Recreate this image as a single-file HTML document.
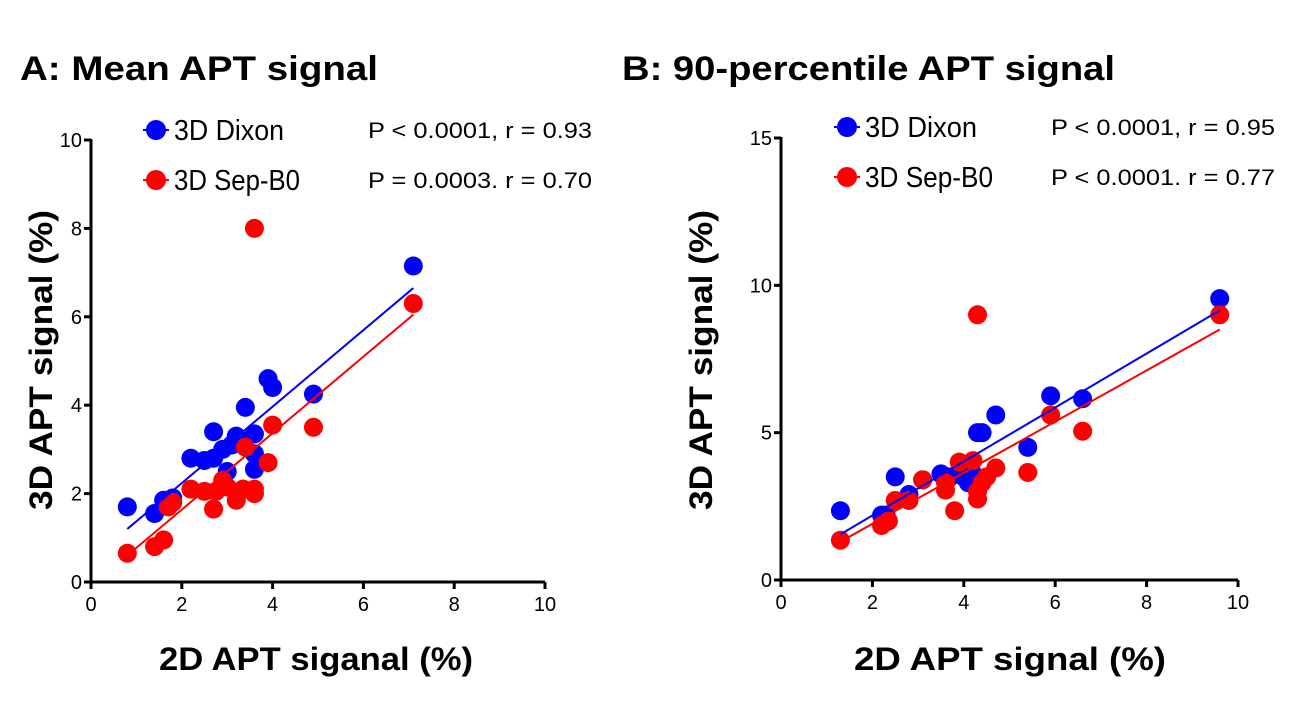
<!DOCTYPE html>
<html><head><meta charset="utf-8"><style>
html,body{margin:0;padding:0;background:#fff;}
svg{display:block;font-family:"Liberation Sans",Arial,sans-serif;}
</style></head><body>
<svg id="chart" width="1299" height="710" viewBox="0 0 1299 710">
<text x="20" y="80" font-size="34" font-weight="bold" textLength="358" lengthAdjust="spacingAndGlyphs">A: Mean APT signal</text>
<text x="622" y="80" font-size="34" font-weight="bold" textLength="493" lengthAdjust="spacingAndGlyphs">B: 90-percentile APT signal</text>
<g id="pa"></g>
<g id="pb"></g>
</svg>
<script>
// Panel A data
const aBlueX=[0.8,1.4,1.6,1.8,2.2,2.5,2.7,2.7,2.9,3.0,3.1,3.2,3.4,3.6,3.6,3.6,3.9,4.0,4.9,7.1];
const aBlueY=[1.7,1.55,1.85,1.9,2.8,2.75,2.8,3.4,3.0,2.5,3.1,3.3,3.95,3.35,2.55,2.9,4.6,4.4,4.25,7.15];
const aRedX=[0.8,1.4,1.6,1.7,1.8,2.2,2.5,2.7,2.75,2.9,3.0,3.2,3.35,3.4,3.6,3.6,3.6,3.9,4.0,4.9,7.1];
const aRedY=[0.65,0.8,0.95,1.7,1.8,2.1,2.05,1.65,2.05,2.3,2.15,1.85,2.1,3.05,2.0,2.1,8.0,2.7,3.55,3.5,6.3];
const aBlueFit=[[0.8,1.2],[7.1,6.65]];
const aRedFit=[[0.8,0.6],[7.1,6.05]];
const aXTicks=[0,2,4,6,8,10];
const aYTicks=[0,2,4,6,8,10];
// Panel B data
const bBlueX=[1.3,2.2,2.3,2.5,2.8,3.1,3.5,3.7,4.0,4.1,4.2,4.3,4.4,4.7,5.4,5.9,6.6,9.6];
const bBlueY=[2.35,2.2,2.2,3.5,2.9,3.4,3.6,3.5,3.5,3.3,3.6,5.0,5.0,5.6,4.5,6.25,6.15,9.55];
const bRedX=[1.3,2.2,2.35,2.5,2.8,3.1,3.6,3.6,3.8,3.9,4.2,4.3,4.3,4.4,4.5,4.7,5.4,5.9,6.6,4.3,9.6];
const bRedY=[1.35,1.85,2.0,2.7,2.7,3.4,3.05,3.3,2.35,4.0,4.05,2.75,3.0,3.3,3.5,3.8,3.65,5.6,5.05,9.0,9.0];
const bBlueFit=[[1.3,1.55],[9.6,9.15]];
const bRedFit=[[1.3,1.3],[9.6,8.5]];
const bXTicks=[0,2,4,6,8,10];
const bYTicks=[0,5,10,15];

const NS="http://www.w3.org/2000/svg";
function mk(parent,tag,attrs,txt){const e=document.createElementNS(NS,tag);for(const k in attrs)e.setAttribute(k,attrs[k]);if(txt!==undefined)e.textContent=txt;parent.appendChild(e);return e;}

function panel(g,cfg){
  const sx=v=>cfg.x0+(v-cfg.xmin)/(cfg.xmax-cfg.xmin)*(cfg.x1-cfg.x0);
  const sy=v=>cfg.y0-(v-cfg.ymin)/(cfg.ymax-cfg.ymin)*(cfg.y0-cfg.y1);
  const ya=mk(g,'line',{x1:cfg.x0,y1:cfg.y0+1.5,x2:cfg.x0,y2:cfg.y1-1,stroke:'#000','stroke-width':3});
  
  
  const xa=mk(g,'line',{x1:cfg.x0-1.5,y1:cfg.y0,x2:cfg.x1,y2:cfg.y0,stroke:'#000','stroke-width':3});
  
  
  cfg.xt.forEach(v=>{
    mk(g,'line',{x1:sx(v),y1:cfg.y0,x2:sx(v),y2:cfg.y0+7,stroke:'#000','stroke-width':3});
    const t=mk(g,'text',{x:sx(v),y:cfg.y0+29,'font-size':20,'text-anchor':'middle'},v);
    
    
  });
  cfg.yt.forEach(v=>{
    mk(g,'line',{x1:cfg.x0-7,y1:sy(v),x2:cfg.x0,y2:sy(v),stroke:'#000','stroke-width':3});
    const t=mk(g,'text',{x:cfg.x0-9,y:sy(v)+7,'font-size':20,'text-anchor':'end'},v);
    
    
  });
  const series=[[cfg.bx,cfg.by,cfg.bf,'#0000ff','dixon'],[cfg.rx,cfg.ry,cfg.rf,'#ff0000','sep-b0']];
  series.forEach(s=>{
    s[0].forEach((x,i)=>{
      const c=mk(g,'circle',{cx:sx(x),cy:sy(s[1][i]),r:9.5,fill:s[3]});
      
      
    });
  });
  series.forEach(s=>{
    const l=mk(g,'line',{x1:sx(s[2][0][0]),y1:sy(s[2][0][1]),x2:sx(s[2][1][0]),y2:sy(s[2][1][1]),stroke:s[3],'stroke-width':2});
    
    
  });
  cfg.leg.forEach((L,i)=>{
    const y=cfg.ly+i*50;
    const c=mk(g,'circle',{cx:cfg.lx,cy:y,r:10,fill:L[0]});
    
    
    mk(g,'line',{x1:cfg.lx-13,y1:y,x2:cfg.lx+13,y2:y,stroke:L[0],'stroke-width':2});
    const t=mk(g,'text',{x:cfg.lx+18,y:y+10,'font-size':29,textLength:L[3],lengthAdjust:'spacingAndGlyphs'},L[1]);
    
    
    const p=mk(g,'text',{x:cfg.px,y:y+8,'font-size':22,textLength:cfg.pw,lengthAdjust:'spacingAndGlyphs'},L[2]);
    
    
  });
  const xt=mk(g,'text',{x:cfg.xtx,y:670,'font-size':32,'font-weight':'bold','text-anchor':'middle',textLength:cfg.xtw,lengthAdjust:'spacingAndGlyphs'},cfg.xtitle);
  
  
  const yt=mk(g,'text',{x:0,y:0,'font-size':32,'font-weight':'bold','text-anchor':'middle',transform:`translate(${cfg.ytx},${cfg.yty}) rotate(-90)`,textLength:cfg.ytw,lengthAdjust:'spacingAndGlyphs'},'3D APT signal (%)');
  
  
}
panel(document.getElementById('pa'),{x0:91,x1:545,y0:582,y1:140,xmin:0,xmax:10,ymin:0,ymax:10,xt:aXTicks,yt:aYTicks,
 bx:aBlueX,by:aBlueY,rx:aRedX,ry:aRedY,bf:aBlueFit,rf:aRedFit,
 lx:156,ly:130,px:368,pw:224,leg:[['#0000ff','3D Dixon','P < 0.0001,  r = 0.93',110],['#ff0000','3D Sep-B0','P = 0.0003. r = 0.70',126]],
 xtitle:'2D APT siganal (%)',xtx:316,xtw:314,ytx:52,yty:360,ytw:300});
panel(document.getElementById('pb'),{x0:781,x1:1238,y0:580,y1:138,xmin:0,xmax:10,ymin:0,ymax:15,xt:bXTicks,yt:bYTicks,
 bx:bBlueX,by:bBlueY,rx:bRedX,ry:bRedY,bf:bBlueFit,rf:bRedFit,
 lx:847,ly:127,px:1051,pw:224,leg:[['#0000ff','3D Dixon','P < 0.0001,  r = 0.95',112],['#ff0000','3D Sep-B0','P < 0.0001. r = 0.77',128]],
 xtitle:'2D APT signal (%)',xtx:1010,xtw:312,ytx:712,yty:360,ytw:300});
</script>
</body></html>
